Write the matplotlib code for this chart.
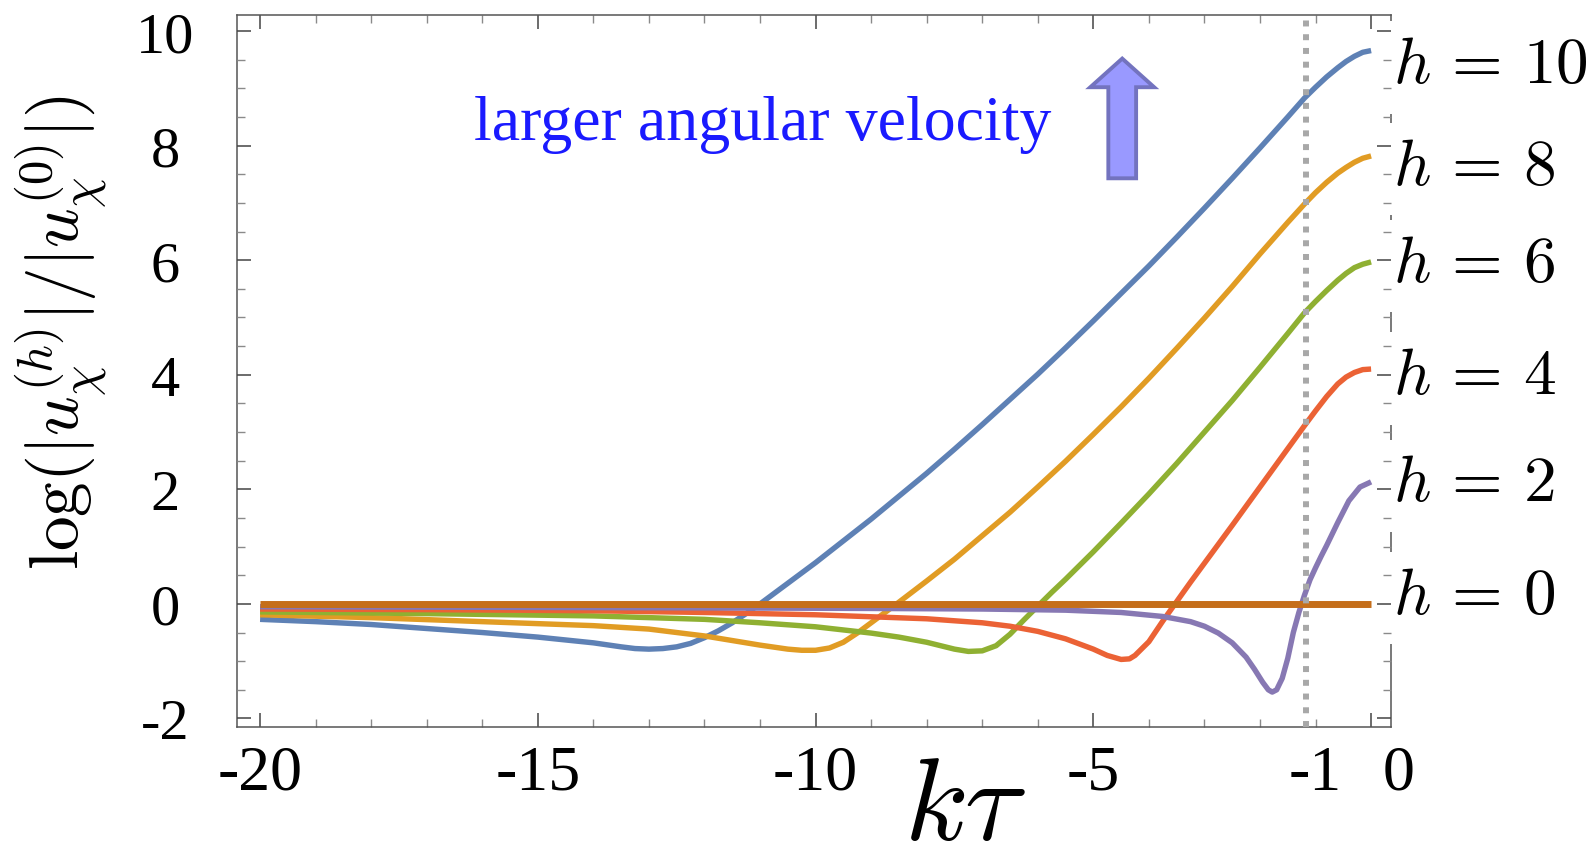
import matplotlib
matplotlib.use("Agg")
import matplotlib.pyplot as plt
from matplotlib.patches import FancyArrow
from matplotlib.transforms import ScaledTranslation

plt.rcParams['font.family'] = ['Liberation Serif', 'DejaVu Serif']
plt.rcParams['mathtext.fontset'] = 'cm'

# values: log(|u^(h)|/|u^(0)|) against k*tau
h10_x = [-20, -19, -18, -17, -16, -15, -14.5, -14, -13.5, -13.25, -13, -12.75, -12.5, -12.25, -12, -11.75,
         -11.5, -11.25, -11, -10.5, -10, -9.5, -9, -8.5, -8, -7.5, -7, -6.5, -6, -5.5, -5, -4.5, -4,
         -3.5, -3, -2.5, -2, -1.5, -1.2, -1, -0.8, -0.6, -0.45, -0.3, -0.15, 0]
h10_y = [-0.27, -0.31, -0.36, -0.43, -0.50, -0.58, -0.63, -0.68, -0.75, -0.78, -0.79, -0.78, -0.75, -0.69, -0.59, -0.47,
         -0.33, -0.17, 0.0, 0.36, 0.72, 1.10, 1.48, 1.88, 2.28, 2.70, 3.13, 3.57, 4.01, 4.47, 4.94, 5.42, 5.90,
         6.40, 6.91, 7.43, 7.96, 8.50, 8.83, 9.02, 9.20, 9.36, 9.47, 9.56, 9.63, 9.66]

h8_x = [-20, -18, -16, -14, -13, -12, -11.5, -11, -10.5, -10.25, -10, -9.75, -9.5, -9.25, -9, -8.75,
        -8.5, -8, -7.5, -7, -6.5, -6, -5.5, -5, -4.5, -4, -3.5, -3, -2.5, -2, -1.5, -1.2, -1, -0.8,
        -0.6, -0.45, -0.3, -0.15, 0]
h8_y = [-0.19, -0.24, -0.31, -0.38, -0.44, -0.56, -0.64, -0.72, -0.79, -0.81, -0.81, -0.77, -0.67, -0.51, -0.33, -0.15,
        0.03, 0.40, 0.78, 1.19, 1.60, 2.04, 2.49, 2.96, 3.44, 3.94, 4.46, 4.99, 5.54, 6.11, 6.66, 6.98, 7.18, 7.36,
        7.52, 7.62, 7.71, 7.78, 7.82]

h6_x = [-20, -17, -14, -12, -11, -10, -9, -8.5, -8, -7.75, -7.5, -7.25, -7, -6.75, -6.5, -6.25, -6,
        -5.75, -5.5, -5, -4.5, -4, -3.5, -3, -2.5, -2, -1.5, -1.2, -1, -0.8, -0.6, -0.45, -0.3, -0.15, 0]
h6_y = [-0.14, -0.17, -0.21, -0.27, -0.33, -0.40, -0.51, -0.58, -0.67, -0.73, -0.79, -0.83, -0.82, -0.73, -0.53, -0.28, -0.04,
        0.20, 0.43, 0.91, 1.41, 1.92, 2.45, 3.00, 3.55, 4.13, 4.72, 5.08, 5.28, 5.47, 5.65, 5.77, 5.87, 5.93, 5.97]

h4_x = [-20, -17, -14, -12, -10, -8, -7, -6.5, -6, -5.5, -5, -4.75, -4.5, -4.35, -4.25, -4, -3.75, -3.5,
        -3.25, -3, -2.5, -2, -1.5, -1.2, -1, -0.8, -0.6, -0.45, -0.3, -0.15, 0]
h4_y = [-0.09, -0.10, -0.12, -0.15, -0.19, -0.26, -0.33, -0.39, -0.48, -0.61, -0.79, -0.90, -0.97, -0.96, -0.90, -0.66, -0.30, 0.04,
        0.38, 0.71, 1.37, 2.04, 2.71, 3.11, 3.37, 3.62, 3.84, 3.96, 4.04, 4.09, 4.10]

h2_x = [-20, -16, -12, -9, -7, -5.5, -4.5, -3.75, -3.25, -3, -2.75, -2.5, -2.25, -2.1, -1.95, -1.85, -1.78,
        -1.7, -1.6, -1.5, -1.4, -1.3, -1.2, -1.1, -1.0, -0.9, -0.8, -0.6, -0.4, -0.2, 0]
h2_y = [-0.05, -0.06, -0.07, -0.08, -0.09, -0.11, -0.15, -0.22, -0.31, -0.39, -0.51, -0.68, -0.93, -1.14, -1.37, -1.50, -1.54,
        -1.50, -1.30, -0.95, -0.50, -0.15, 0.15, 0.42, 0.63, 0.83, 1.02, 1.42, 1.80, 2.04, 2.13]

h0_x = [-20, 0]
h0_y = [0, 0]

x_major = [-20, -15, -10, -5, 0]
x_major_labels = ['-20', '-15', '-10', '-5', '0']
x_minor = [-19, -18, -17, -16, -14, -13, -12, -11, -9, -8, -7, -6, -4, -3, -2, -1]
y_major = [-2, 0, 2, 4, 6, 8, 10]
y_major_labels = ['-2', '0', '2', '4', '6', '8', '10']
y_minor = [-1.5, -1, -0.5, 0.5, 1, 1.5, 2.5, 3, 3.5, 4.5, 5, 5.5, 6.5, 7, 7.5, 8.5, 9, 9.5]

curves = [(h10_x, h10_y, '#5e81b5', r'$h\,=\,10$'),
          (h8_x, h8_y, '#e19c24', r'$h\,=\,8$'),
          (h6_x, h6_y, '#8fb032', r'$h\,=\,6$'),
          (h4_x, h4_y, '#eb6235', r'$h\,=\,4$'),
          (h2_x, h2_y, '#8778b3', r'$h\,=\,2$'),
          (h0_x, h0_y, '#c56e1a', r'$h\,=\,0$')]
label_y = [9.09, 7.31, 5.62, 3.66, 1.79, -0.17]   # baselines of the h labels

fig = plt.figure(figsize=(15.9, 8.65), dpi=100)
ax = fig.add_axes([0.1489, 0.1595, 0.726, 0.8231])

for i, (xs, ys, col, lab) in enumerate(curves):
    lw = 5.0 if i == len(curves) - 1 else 3.9
    ax.plot(xs, ys, color=col, lw=lw, solid_joinstyle='round', solid_capstyle='butt',
            zorder=2 + 0.01 * i)
    # white box hides the right frame like in the original
    ax.text(0.40, label_y[i], lab, fontsize=47, va='baseline', ha='left', zorder=2.6,
            bbox=dict(boxstyle='square,pad=0.25', fc='white', ec='none'))

ax.axvline(-1.17, color='#a8a8a8', lw=4.3, linestyle=(0, (1, 1.3)), zorder=4)

ax.add_patch(FancyArrow(-4.48, 7.43, 0, 2.09, width=0.50, head_width=1.15, head_length=0.5,
                        length_includes_head=True, fc='#9999ff', ec='#7373bf', lw=2.8, zorder=5))
ax.text(-16.15, 8.10, 'larger angular velocity', fontsize=46, color='#1a1aff',
        va='baseline', ha='left')

ax.set_xlim(-20.42, 0.36)
ax.set_ylim(-2.15, 10.28)

ax.set_xticks(x_major, x_major_labels)
ax.set_xticks(x_minor, ['-1' if v == -1 else '' for v in x_minor], minor=True)
ax.set_yticks(y_major, y_major_labels)
ax.set_yticks(y_minor, minor=True)

ax.tick_params(axis='both', which='both', direction='in', top=True, right=True)
ax.tick_params(which='major', length=10, width=1.1, color='#444444')
ax.tick_params(which='minor', length=6, width=1.0, color='#8a8a8a')
ax.tick_params(axis='x', which='both', pad=13.5, labelsize=46)
ax.tick_params(axis='y', which='both', pad=51.6, labelsize=42)
down = ScaledTranslation(0, -0.07, fig.dpi_scale_trans)
for lab in ax.get_yticklabels():
    lab.set_horizontalalignment('center')
    lab.set_verticalalignment('center')
    lab.set_transform(lab.get_transform() + down)
ax.yaxis.set_zorder(2.7)

# the "0" label sits to the right of its tick in the original
zero = ax.xaxis.get_major_ticks()[-1].label1
zero.set_transform(zero.get_transform() + ScaledTranslation(0.27, 0, fig.dpi_scale_trans))

for s in ax.spines.values():
    s.set_color('#555555')
    s.set_linewidth(1.1)

fig.text(62 / 1590, 1 - 333 / 865, r'$\log(|u_\chi^{(h)}|/|u_\chi^{(0)}|)$', rotation=90,
         fontsize=50, ha='center', va='center')
fig.text(965 / 1590, 0.0, r'$k\tau$', fontsize=84, ha='center', va='bottom')

fig.savefig('out.png', dpi=100)
